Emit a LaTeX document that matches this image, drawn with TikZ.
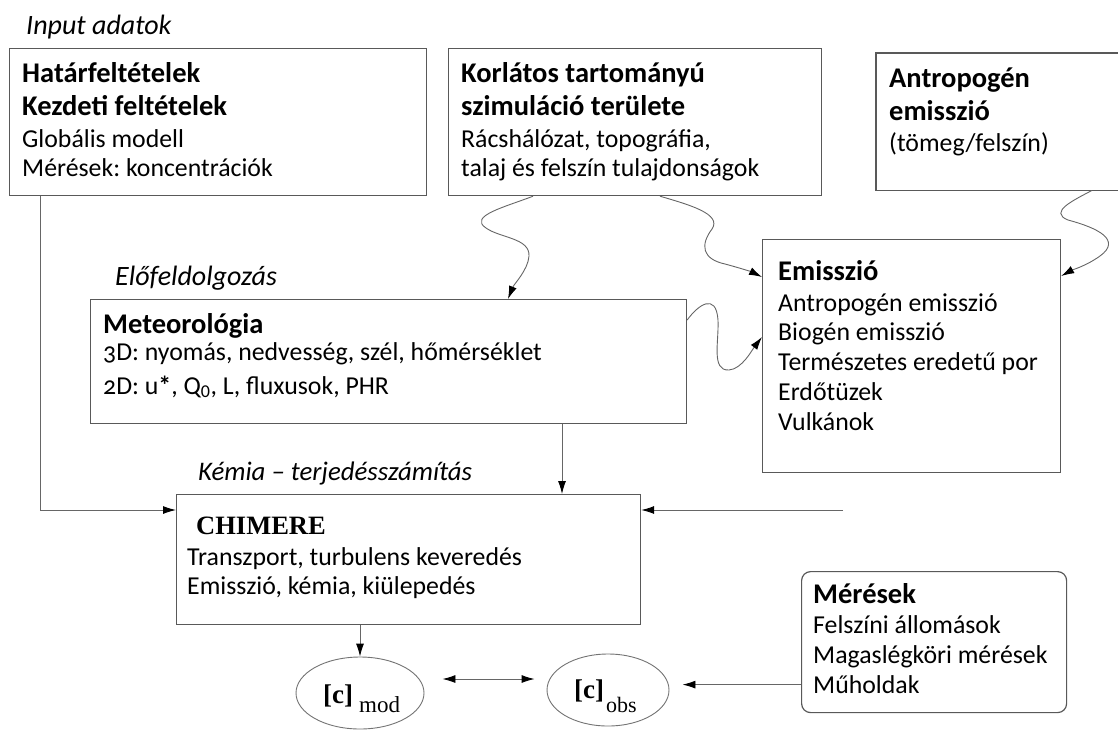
\documentclass[tikz,border=0pt]{standalone}
\usepackage{fontspec}
\setmainfont{Carlito}
\newfontfamily\timesf{Liberation Serif}
\usetikzlibrary{arrows.meta,calc,shapes.geometric}
\frenchspacing
\begin{document}
\begin{tikzpicture}[x=1pt,y=1pt,
  box/.style={draw=black!65,line width=1.2pt,inner sep=0pt,anchor=north west},
  txt/.style={anchor=base west,inner sep=0pt,font=\fontsize{25.8}{29}\selectfont},
  hd/.style={anchor=base west,inner sep=0pt,font=\fontsize{28.5}{31}\selectfont\bfseries},
  lbl/.style={anchor=base west,inner sep=0pt,font=\fontsize{28}{31}\selectfont\itshape},
  conn/.style={draw=black!60,line width=0.9pt,-{Latex[length=13pt,width=8pt,color=black]}},
  dconn/.style={draw=black!60,line width=0.9pt,{Latex[length=13pt,width=8pt,color=black]}-{Latex[length=13pt,width=8pt,color=black]}},
  ell/.style={ellipse,draw=black!55,line width=0.9pt,inner sep=0pt},
]
\useasboundingbox (0,0) rectangle (1118,-729);

% labels
\node[lbl] (lin) at (26,-34) {Input adatok};
\node[lbl] (lpre) at (115,-285) {Előfeldolgozás};
\node[lbl,font=\fontsize{26.8}{30}\selectfont\itshape] (lchem) at (198,-480) {Kémia – terjedésszámítás};

% box 1
\node[box,minimum width=417,minimum height=147] (b1) at (9,-48) {};
\node[hd] (b1a) at (22,-82) {Határfeltételek};
\node[hd] (b1b) at (22,-115) {Kezdeti feltételek};
\node[txt] (b1c) at (22,-147) {Globális modell};
\node[txt] (b1d) at (22,-176) {Mérések: koncentrációk};

% box 2
\node[box,minimum width=373,minimum height=147] (b2) at (448,-48) {};
\node[hd] (b2a) at (461,-82) {Korlátos tartományú};
\node[hd] (b2b) at (461,-115) {szimuláció területe};
\node[txt] (b2c) at (461,-147) {Rácshálózat, topográfia,};
\node[txt] (b2d) at (461,-176) {talaj és felszín tulajdonságok};

% box 3 (open at the right edge)
\node[inner sep=0pt,anchor=north west,minimum width=242,minimum height=137] (b3) at (876,-53) {};
\draw[draw=black!65,line width=1.2pt] (b3.north east) -- (b3.north west) -- (b3.south west) -- (b3.south east);
\node[hd] (b3a) at (889,-87) {Antropogén};
\node[hd] (b3b) at (889,-120) {emisszió};
\node[txt] (b3c) at (889,-151) {(tömeg/felszín)};

% Emisszió box
\node[box,minimum width=298,minimum height=233] (em) at (762,-239) {};
\node[hd] (ema) at (778,-280) {Emisszió};
\node[txt] (emb) at (778,-311) {Antropogén emisszió};
\node[txt] (emc) at (778,-340) {Biogén emisszió};
\node[txt] (emd) at (778,-370) {Természetes eredetű por};
\node[txt] (eme) at (778,-400) {Erdőtüzek};
\node[txt] (emf) at (778,-430) {Vulkánok};

% Meteorológia box
\node[box,minimum width=596,minimum height=124] (met) at (90,-299) {};
\node[hd] (meta) at (103,-333) {Meteorológia};
\node[txt] (metb) at (103,-360) {\addfontfeatures{Numbers=OldStyle}3D: nyomás, nedvesség, szél, hőmérséklet};
\node[txt] (metc) at (103,-394) {\addfontfeatures{Numbers=OldStyle}2D: u\textbf{*}, Q\textsubscript{\addfontfeatures{Numbers=Lining}0}, L, fluxusok, PHR};

% CHIMERE box
\node[box,minimum width=464,minimum height=130] (chim) at (176,-494) {};
\node[anchor=base west,inner sep=0pt,font=\timesf\fontsize{26.5}{30}\selectfont\bfseries] (chima) at (196,-534) {CHIMERE};
\node[txt] (chimb) at (187,-565) {Transzport, turbulens keveredés};
\node[txt] (chimc) at (187,-594) {Emisszió, kémia, kiülepedés};

% Mérések box
\node[box,rounded corners=9pt,minimum width=265,minimum height=141] (mer) at (801,-571) {};
\node[hd] (mera) at (813,-603) {Mérések};
\node[txt] (merb) at (813,-633) {Felszíni állomások};
\node[txt] (merc) at (813,-663) {Magaslégköri mérések};
\node[txt] (merd) at (813,-693) {Műholdak};

% ellipses
\node[ell,minimum width=128,minimum height=72] (mod) at (360,-693) {};
\node[anchor=base west,inner sep=0pt,font=\timesf\fontsize{27}{30}\selectfont\bfseries] (modc) at (323,-703) {[c]};
\node[anchor=base west,inner sep=0pt,font=\timesf\fontsize{23}{26}\selectfont] (mods) at (359,-712) {mod};
\node[ell,minimum width=122,minimum height=72] (obs) at (608,-690) {};
\node[anchor=base west,inner sep=0pt,font=\timesf\fontsize{27}{30}\selectfont\bfseries] (obsc) at (574,-698) {[c]};
\node[anchor=base west,inner sep=0pt,font=\timesf\fontsize{22}{26}\selectfont] (obss) at (606,-712) {obs};

% straight connectors
\draw[conn] ([xshift=31pt]b1.south west) |- ([yshift=-16pt]chim.north west);
\draw[conn] ([xshift=472pt]met.south west) -- ([xshift=472pt]met.south west |- chim.north);
\coordinate (rin) at (843,-510);
\draw[conn] (rin) -- (rin -| chim.east);
\draw[conn] (mod.north |- chim.south) -- (mod.north);
\draw[dconn] ([shift={(18pt,14pt)}]mod.east) -- ([shift={(-12pt,11pt)}]obs.west);
\coordinate (obsR) at ([xshift=13pt]obs.east);
\draw[conn] ([yshift=-42.5pt]mer.west) -- ([yshift=-42.5pt]mer.west -| obsR);

% wavy connectors
\draw[conn] ([xshift=85pt]b2.south west) .. controls (505,-207) and (468,-216) .. (486,-228)
  .. controls (500,-238) and (530,-238) .. (529,-256)
  .. controls (528,-270) and (514,-284) .. ([xshift=418pt]met.north west);
\draw[conn] ([xshift=212pt]b2.south west) .. controls (690,-205) and (722,-214) .. (712,-229)
  .. controls (700,-245) and (702,-259) .. (725,-264)
  .. controls (740,-268) and (752,-272) .. ([yshift=-38pt]em.north west);
\draw[conn] ([yshift=-21pt]met.north east) .. controls (698,-305) and (716,-292) .. (718,-320)
  .. controls (719,-342) and (711,-371) .. (729,-370)
  .. controls (742,-369) and (752,-350) .. ([yshift=-98pt]em.north west);
\draw[conn] ([xshift=216pt]b3.south west) .. controls (1074,-200) and (1048,-212) .. (1068,-220)
  .. controls (1098,-228) and (1122,-240) .. (1100,-256)
  .. controls (1086,-266) and (1072,-270) .. ([yshift=-37pt]em.north east);
\end{tikzpicture}
\end{document}
